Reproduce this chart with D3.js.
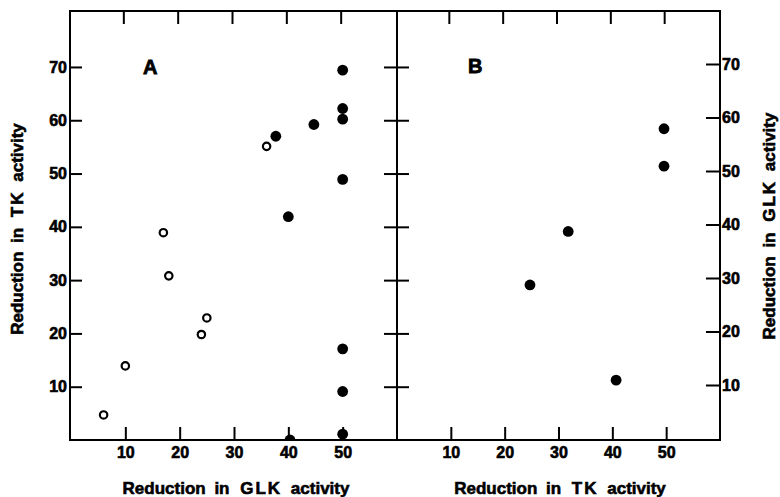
<!DOCTYPE html>
<html>
<head>
<meta charset="utf-8">
<script src="https://cdn.jsdelivr.net/npm/d3@7/dist/d3.min.js"></script>
<style>
  html, body { margin: 0; padding: 0; background: #fff; }
  svg { display: block; }
  text { font-family: "Liberation Sans", Arial, Helvetica, sans-serif; font-weight: bold; fill: #000; }
  .num { font-family: "Liberation Sans Narrow", "Liberation Sans", Arial, sans-serif; }
</style>
</head>
<body>
<svg id="chart" width="780" height="497"></svg>
<script>
// Panel A: reduction in GLK activity (x) vs reduction in TK activity (y)
const openA = [
  [6, 4.7], [10, 13.9], [17, 38.9], [18, 30.8], [24, 19.8], [25, 22.9], [36, 55.1]
];
const filledA = [
  [37.7, 57.0], [40, 41.9], [44.7, 59.2], [50, 69.4], [50, 62.2], [50, 60.2],
  [50, 48.9], [50, 17.1], [50, 9.1], [50, 1.1], [40.3, 0]
];
// Panel B: reduction in TK activity (x) vs reduction in GLK activity (y)
const filledB = [
  [24.7, 28.7], [31.8, 38.7], [40.7, 10.9], [49.6, 57.9], [49.6, 50.9]
];
const xTicks = [10, 20, 30, 40, 50];
const yTicks = [10, 20, 30, 40, 50, 60, 70];
const panelLabels = ["A", "B"];
const xTitles = ["Reduction in GLK activity", "Reduction in TK activity"];
const yTitles = ["Reduction in TK activity", "Reduction in GLK activity"];

const svg = d3.select("#chart");
const frameTop = 11, frameBottom = 440, frameLeft = 70, frameMid = 397, frameRight = 720;

const xA = d3.scaleLinear().domain([0, 60]).range([71, frameMid]);
const xB = d3.scaleLinear().domain([0, 60]).range([frameMid, frameRight]);
const yL = d3.scaleLinear().domain([0, 80.5]).range([frameBottom, frameTop]);
const yR = d3.scaleLinear().domain([0, 80]).range([438.5, 10.5]);

// clip marks to the plotting frame
const defs = svg.append("defs");
defs.append("clipPath").attr("id", "clipA")
  .append("rect").attr("x", frameLeft).attr("y", frameTop)
  .attr("width", frameMid - frameLeft).attr("height", frameBottom - frameTop);
defs.append("clipPath").attr("id", "clipB")
  .append("rect").attr("x", frameMid).attr("y", frameTop)
  .attr("width", frameRight - frameMid).attr("height", frameBottom - frameTop);

function styleAxis(g) {
  g.attr("font-family", null).attr("font-size", null);
  g.select(".domain").remove();
  g.selectAll(".tick line").attr("stroke", "#000").attr("stroke-width", 2);
  g.selectAll(".tick text").attr("class", "num").style("font-size", "16px")
    .style("font-weight", "bold").attr("stroke", "#000").attr("stroke-width", 0.6);
}

// bottom axes (inward ticks, labels below)
svg.append("g").attr("transform", `translate(0,${frameBottom})`)
  .call(d3.axisBottom(xA).tickValues(xTicks).tickSizeInner(-13).tickSizeOuter(0).tickPadding(7))
  .call(styleAxis);
svg.append("g").attr("transform", `translate(0,${frameBottom})`)
  .call(d3.axisBottom(xB).tickValues(xTicks).tickSizeInner(-13).tickSizeOuter(0).tickPadding(7))
  .call(styleAxis);

// top axes (inward ticks, no labels)
svg.append("g").attr("transform", `translate(-2,${frameTop})`)
  .call(d3.axisTop(xA).tickValues(xTicks).tickSizeInner(-13).tickSizeOuter(0).tickFormat(""))
  .call(styleAxis);
svg.append("g").attr("transform", `translate(-2,${frameTop})`)
  .call(d3.axisTop(xB).tickValues(xTicks).tickSizeInner(-13).tickSizeOuter(0).tickFormat(""))
  .call(styleAxis);

// left axis
svg.append("g").attr("transform", `translate(${frameLeft},0)`)
  .call(d3.axisLeft(yL).tickValues(yTicks).tickSizeInner(-12).tickSizeOuter(0).tickPadding(3))
  .call(styleAxis);

// ticks crossing the divider between panels
svg.append("g").attr("transform", `translate(${frameMid - 13},0)`)
  .call(d3.axisRight(yL).tickValues(yTicks).tickSizeInner(25).tickSizeOuter(0).tickFormat(""))
  .call(styleAxis);

// right axis
svg.append("g").attr("transform", `translate(${frameRight},0)`)
  .call(d3.axisRight(yR).tickValues(yTicks).tickSizeInner(-14).tickSizeOuter(0).tickPadding(2))
  .call(styleAxis);

// frame and divider
svg.append("rect").attr("x", frameLeft).attr("y", frameTop)
  .attr("width", frameRight - frameLeft).attr("height", frameBottom - frameTop)
  .attr("fill", "none").attr("stroke", "#000").attr("stroke-width", 2);
svg.append("line").attr("x1", frameMid).attr("x2", frameMid).attr("y1", frameTop).attr("y2", frameBottom)
  .attr("stroke", "#000").attr("stroke-width", 2);

// points
const gA = svg.append("g").attr("clip-path", "url(#clipA)");
gA.selectAll("circle.open").data(openA).join("circle")
  .attr("class", "open")
  .attr("cx", d => xA(d[0])).attr("cy", d => yL(d[1])).attr("r", 3.7)
  .attr("fill", "#fff").attr("stroke", "#000").attr("stroke-width", 2.2);
gA.selectAll("circle.filled").data(filledA).join("circle")
  .attr("class", "filled")
  .attr("cx", d => xA(d[0])).attr("cy", d => yL(d[1])).attr("r", 5.4)
  .attr("fill", "#000");

const gB = svg.append("g").attr("clip-path", "url(#clipB)");
gB.selectAll("circle").data(filledB).join("circle")
  .attr("cx", d => xB(d[0])).attr("cy", d => yR(d[1])).attr("r", 5.4)
  .attr("fill", "#000");

// panel letters
svg.append("text").attr("x", 143).attr("y", 74).style("font-size", "20px")
  .attr("stroke", "#000").attr("stroke-width", 0.8).text(panelLabels[0]);
svg.append("text").attr("x", 468).attr("y", 73).style("font-size", "20px")
  .attr("stroke", "#000").attr("stroke-width", 0.8).text(panelLabels[1]);

// axis titles: wider gaps between words, letter-spaced enzyme abbreviations
function addTitle(sel, t) {
  t.split(" ").forEach((w, i) => {
    const ts = sel.append("tspan").text((i ? " " : "") + w);
    if (w === "GLK" || w === "TK") ts.style("letter-spacing", "2px");
  });
}
function titleText(x, y, rotate) {
  return svg.append("text")
    .attr("transform", `translate(${x},${y})` + (rotate ? " rotate(-90)" : ""))
    .attr("text-anchor", "middle")
    .attr("stroke", "#000").attr("stroke-width", 0.6)
    .style("font-size", "17px").style("word-spacing", "4px");
}
addTitle(titleText(236, 494, false), xTitles[0]);
addTitle(titleText(560, 494, false), xTitles[1]);
addTitle(titleText(23, 229, true), yTitles[0]);
addTitle(titleText(775, 226, true), yTitles[1]);
</script>
</body>
</html>
